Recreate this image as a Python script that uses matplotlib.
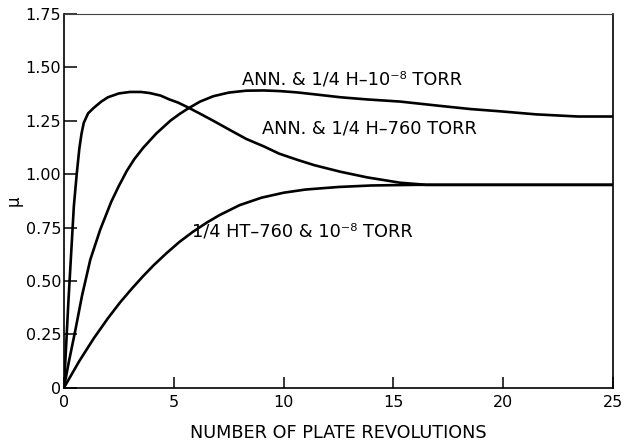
import matplotlib
matplotlib.use("Agg")
import matplotlib.pyplot as plt

# friction coefficient vs plate revolutions
fast_x = [0, 0.2, 0.45, 0.58, 0.7, 0.8, 0.9, 1.1, 1.35, 1.7, 2.0, 2.5, 3.0, 3.5, 3.9,
          4.4, 4.8, 5.2, 5.66, 6.2, 6.8, 7.5, 8.3, 9.1, 9.8, 10.6, 11.4, 12.6, 13.8,
          15.3, 16.5, 20, 25]
fast_y = [0, 0.40, 0.85, 1.00, 1.12, 1.19, 1.24, 1.285, 1.31, 1.34, 1.36, 1.378, 1.385,
          1.385, 1.38, 1.368, 1.35, 1.335, 1.312, 1.283, 1.25, 1.21, 1.165, 1.13, 1.096,
          1.068, 1.042, 1.011, 0.985, 0.96, 0.95, 0.95, 0.95]

mid_x = [0, 0.22, 0.52, 0.82, 1.2, 1.65, 2.15, 2.5, 2.86, 3.2, 3.62, 4.2, 4.84, 5.28,
         5.66, 6.2, 6.8, 7.5, 8.3, 9.1, 9.84, 10.6, 11.4, 12.6, 13.8, 15.3, 17.1, 18.5,
         19.9, 21.5, 23.4, 25]
mid_y = [0, 0.12, 0.27, 0.43, 0.60, 0.74, 0.87, 0.945, 1.015, 1.07, 1.125, 1.19, 1.25,
         1.283, 1.308, 1.34, 1.365, 1.382, 1.391, 1.392, 1.389, 1.383, 1.374, 1.36,
         1.35, 1.34, 1.32, 1.305, 1.294, 1.28, 1.27, 1.27]

slow_x = [0, 0.7, 1.35, 2.0, 2.56, 3.1, 3.61, 4.1, 4.67, 5.25, 5.87, 6.5, 7.08, 8.0,
          9.0, 10.0, 11.0, 12.5, 14.0, 16.0, 20, 25]
slow_y = [0, 0.125, 0.23, 0.325, 0.40, 0.465, 0.523, 0.575, 0.63, 0.682, 0.73, 0.773,
          0.808, 0.855, 0.89, 0.913, 0.928, 0.94, 0.947, 0.95, 0.95, 0.95]

labels = ["ANN. & 1/4 H\u201310\u207b\u2078 TORR",
          "ANN. & 1/4 H\u2013760 TORR",
          "1/4 HT\u2013760 & 10\u207b\u2078 TORR"]
label_pos = [(8.1, 1.445), (9.0, 1.215), (5.85, 0.73)]

xticks = [0, 5, 10, 15, 20, 25]
yticks = [0, 0.25, 0.5, 0.75, 1.0, 1.25, 1.5, 1.75]
ytick_labels = ["0", "0.25", "0.50", "0.75", "1.00", "1.25", "1.50", "1.75"]

fig = plt.figure(figsize=(6.29, 4.45), dpi=100)
ax = fig.add_axes([0.1017, 0.1288, 0.8729, 0.8397])

for xs, ys in [(fast_x, fast_y), (mid_x, mid_y), (slow_x, slow_y)]:
    ax.plot(xs, ys, color="black", linewidth=1.9, solid_capstyle="round",
            solid_joinstyle="round")

for txt, (tx, ty) in zip(labels, label_pos):
    ax.text(tx, ty, txt, fontsize=12.8, ha="left", va="center")

ax.set_xlim(0, 25)
ax.set_ylim(0, 1.75)
ax.set_xticks(xticks)
ax.set_yticks(yticks)
ax.set_yticklabels(ytick_labels)
ax.tick_params(axis="y", direction="in", length=9.5, width=1.1, labelsize=11.5, pad=2)
ax.tick_params(axis="x", direction="in", length=8, width=1.1, labelsize=11.5, pad=5)

for side in ["left", "bottom", "right"]:
    ax.spines[side].set_linewidth(1.2)
ax.spines["top"].set_linewidth(0.8)
ax.spines["top"].set_color("#444444")

ax.set_xlabel("NUMBER OF PLATE REVOLUTIONS", fontsize=12.7, labelpad=10)
ax.set_ylabel("\u03bc", fontsize=12, labelpad=2)

fig.savefig("out.png", dpi=100)
